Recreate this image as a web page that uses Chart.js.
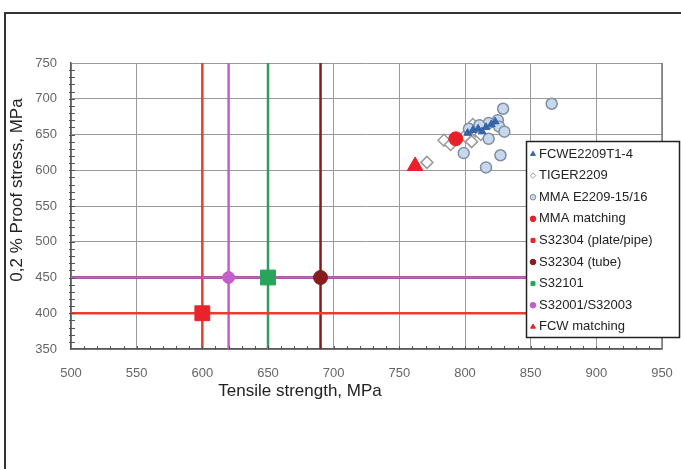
<!DOCTYPE html>
<html>
<head>
<meta charset="utf-8">
<script src="https://cdn.jsdelivr.net/npm/chart.js@4.4.1/dist/chart.umd.min.js"></script>
<style>
    body { margin: 0; background: #fff; }
    #wrap { position: relative; width: 681px; height: 469px; overflow: hidden; }
    #frame { position: absolute; left: 4px; top: 12px; width: 700px; height: 500px; border: 2px solid #333; }
    canvas { position: absolute; left: 0; top: 0; }
</style>
</head>
<body>
<div id="wrap">
    <div id="frame"></div>
    <canvas id="chart" width="681" height="469"></canvas>
</div>
<script>
// axis ranges
const tensileRange = [500, 950];
const proofRange = [350, 750];

// weld metal results
const fcweTensile = [802, 806, 810, 813, 816, 820, 823];
const fcweProof = [652, 656, 658, 654, 660, 664, 668];

const tigerTensile = [771, 784, 789, 800, 805, 808, 806, 812];
const tigerProof = [611, 642, 636, 648, 640, 655, 664, 650];

const mmaTensile = [866, 829, 825, 818, 811, 803, 826, 830, 818, 799, 827, 816];
const mmaProof = [693, 686, 670, 666, 663, 658, 661, 654, 644, 624, 621, 604];

const mmaMatchTensile = [793];
const mmaMatchProof = [644];

const fcwMatchTensile = [762];
const fcwMatchProof = [606];

// base material minimum values
const gradeNames = ['S32304 (plate/pipe)', 'S32304 (tube)', 'S32101', 'S32001/S32003'];
const gradeTensile = [600, 690, 650, 620];
const gradeProof = [400, 450, 450, 450];

const font = "'Liberation Sans', Arial, sans-serif";

function pairs(xs, ys) {
    return xs.map((x, i) => ({ x: x, y: ys[i] }));
}

const gradeStyles = [
    { color: '#e8242a', line: '#ef3b2f', style: 'rect', radius: 10.5 },
    { color: '#861d1d', line: '#841c1c', style: 'circle', radius: 7 },
    { color: '#27a55a', line: '#2e9e57', style: 'rect', radius: 10.5 },
    { color: '#c45ec8', line: '#c45ec8', style: 'circle', radius: 6 },
];

const datasets = [
    {
        label: 'FCWE2209T1-4', data: pairs(fcweTensile, fcweProof), inLegend: true,
        pointStyle: 'triangle', pointRadius: 4.5, backgroundColor: '#3565a8', borderColor: '#3565a8', borderWidth: 1, order: 1
    },
    {
        label: 'TIGER2209', data: pairs(tigerTensile, tigerProof), inLegend: true,
        pointStyle: 'rectRot', pointRadius: 6, backgroundColor: '#ffffff', borderColor: '#9a9a9a', borderWidth: 1.5, order: 3
    },
    {
        label: 'MMA E2209-15/16', data: pairs(mmaTensile, mmaProof), inLegend: true,
        pointStyle: 'circle', pointRadius: 5.5, backgroundColor: '#c8d8ec', borderColor: '#7f8fa3', borderWidth: 1.5, order: 2
    },
    {
        label: 'MMA matching', data: pairs(mmaMatchTensile, mmaMatchProof), inLegend: true,
        pointStyle: 'circle', pointRadius: 7, backgroundColor: '#e8202a', borderColor: '#e8202a', borderWidth: 1, order: 0
    },
];

// grade markers + their guide lines
gradeNames.forEach((name, i) => {
    const s = gradeStyles[i];
    datasets.push({
        label: name, data: [{ x: gradeTensile[i], y: gradeProof[i] }], inLegend: true,
        pointStyle: s.style, pointRadius: s.radius, backgroundColor: s.color, borderColor: s.color, borderWidth: 1, order: 1
    });
    datasets.push({
        label: name + ' v', data: [{ x: gradeTensile[i], y: proofRange[0] }, { x: gradeTensile[i], y: proofRange[1] }],
        showLine: true, pointRadius: 0, borderColor: s.line, borderWidth: 2.5, order: 12
    });
    datasets.push({
        label: name + ' h', data: [{ x: tensileRange[0], y: gradeProof[i] }, { x: tensileRange[1], y: gradeProof[i] }],
        showLine: true, pointRadius: 0, borderColor: s.line, borderWidth: 2.5, order: i === 0 ? 9 : (i === 3 ? 10 : 11)
    });
});

datasets.push({
    label: 'FCW matching', data: pairs(fcwMatchTensile, fcwMatchProof), inLegend: true,
    pointStyle: 'triangle', pointRadius: 9, backgroundColor: '#e8202a', borderColor: '#e8202a', borderWidth: 1, order: 0
});

// titles, minor ticks and the boxed legend
const extras = {
    id: 'extras',
    afterDatasetsDraw(chart) {
        const ctx = chart.ctx;
        const x = chart.scales.x, y = chart.scales.y;
        const area = chart.chartArea;
        ctx.save();

        // right frame of the plot
        ctx.strokeStyle = '#777';
        ctx.lineWidth = 1.5;
        ctx.beginPath();
        ctx.moveTo(area.right, area.top);
        ctx.lineTo(area.right, area.bottom);
        ctx.stroke();

        // minor ticks
        ctx.strokeStyle = '#555';
        ctx.lineWidth = 1;
        ctx.beginPath();
        for (let v = tensileRange[0] + 10; v < tensileRange[1]; v += 10) {
            const px = Math.round(x.getPixelForValue(v)) + 0.5;
            ctx.moveTo(px, area.bottom + 1);
            ctx.lineTo(px, area.bottom - 3);
        }
        for (let v = proofRange[0] + 10; v < proofRange[1]; v += 10) {
            const py = Math.round(y.getPixelForValue(v)) + 0.5;
            ctx.moveTo(area.left - 2, py);
            ctx.lineTo(area.left + 4, py);
        }
        ctx.stroke();

        // axis titles
        ctx.fillStyle = '#222';
        ctx.font = '17px ' + font;
        ctx.textAlign = 'center';
        ctx.textBaseline = 'middle';
        ctx.fillText('Tensile strength, MPa', 300, 391);
        ctx.save();
        ctx.translate(17, 190);
        ctx.rotate(-Math.PI / 2);
        ctx.fillText('0,2 % Proof stress, MPa', 0, 0);
        ctx.restore();

        // legend box
        const items = chart.data.datasets.filter(d => d.inLegend);
        const bx = 526, by = 141, bw = 153, bh = 196;
        ctx.fillStyle = '#fff';
        ctx.fillRect(bx, by, bw, bh);
        ctx.strokeStyle = '#222';
        ctx.lineWidth = 1.5;
        ctx.strokeRect(bx + 0.5, by + 0.5, bw, bh);

        ctx.font = '13px ' + font;
        ctx.textAlign = 'left';
        items.forEach((d, i) => {
            const iy = 154 + i * 21.6;
            ctx.fillStyle = d.backgroundColor;
            ctx.strokeStyle = d.borderColor;
            ctx.lineWidth = 1;
            Chart.helpers.drawPoint(ctx, { pointStyle: d.pointStyle, radius: 2.8, borderWidth: 1, rotation: 0 }, 533, iy);
            ctx.fillStyle = '#222';
            ctx.fillText(d.label, 539, iy);
        });
        ctx.restore();
    }
};

const ctxChart = document.getElementById('chart').getContext('2d');
const chart = new Chart(ctxChart, {
    type: 'scatter',
    data: { datasets: datasets },
    options: {
        responsive: false,
        animation: false,
        layout: { padding: { top: 63, right: 19, left: 0, bottom: 0 } },
        plugins: {
            legend: { display: false },
            tooltip: { enabled: false }
        },
        scales: {
            x: {
                min: tensileRange[0], max: tensileRange[1],
                afterFit: scale => { scale.height = 120; scale.paddingLeft = 0; scale.paddingRight = 0; },
                ticks: { stepSize: 50, padding: 17, color: '#666', font: { family: font, size: 13 }, maxRotation: 0 },
                grid: { color: '#9a9a9a', lineWidth: 1, drawTicks: false },
                border: { color: '#555', width: 1.5 }
            },
            y: {
                min: proofRange[0], max: proofRange[1],
                afterFit: scale => { scale.width = 71; scale.paddingTop = 0; scale.paddingBottom = 0; },
                ticks: { stepSize: 50, padding: 14, color: '#666', font: { family: font, size: 13 } },
                grid: { color: '#9a9a9a', lineWidth: 1, drawTicks: false },
                border: { color: '#555', width: 1.5 }
            }
        }
    },
    plugins: [extras]
});
</script>
</body>
</html>
